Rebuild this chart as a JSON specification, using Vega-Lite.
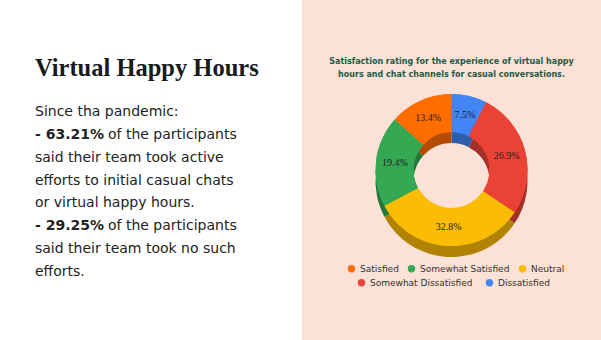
{
  "$schema": "https://vega.github.io/schema/vega-lite/v6.json",
  "padding": 0,
  "background": "white",
  "spacing": 232,
  "bounds": "flush",
  "config": {"view": {"stroke": null}},
  "resolve": {"scale": {"color": "independent", "fill": "independent"}, "legend": {"color": "independent", "fill": "independent"}},
  "hconcat": [
    {
      "width": 70,
      "height": 340,
      "data": {"values": [
        {"line": 0, "bold": "", "rest": "Virtual Happy Hours"},
        {"line": 1, "bold": "", "rest": "Since tha pandemic:"},
        {"line": 2, "bold": "- 63.21%", "rest": "of the participants"},
        {"line": 3, "bold": "", "rest": "said their team took active"},
        {"line": 4, "bold": "", "rest": "efforts to initial casual chats"},
        {"line": 5, "bold": "", "rest": "or virtual happy hours."},
        {"line": 6, "bold": "- 29.25%", "rest": "of the participants"},
        {"line": 7, "bold": "", "rest": "said their team took no such"},
        {"line": 8, "bold": "", "rest": "efforts."}
      ]},
      "encoding": {
        "y": {"field": "line", "type": "quantitative", "scale": {"domain": [1, 8], "range": [112, 272], "zero": false, "nice": false}, "axis": null}
      },
      "layer": [
        {
          "transform": [{"filter": "datum.line == 0"}],
          "mark": {"type": "text", "align": "left", "baseline": "middle", "dy": -20, "font": "Liberation Serif", "fontWeight": "bold", "fontSize": 24.5, "color": "#1a1a1a"},
          "encoding": {"text": {"field": "rest"}}
        },
        {
          "transform": [{"filter": "datum.line > 0 && datum.bold != ''"}],
          "mark": {"type": "text", "align": "left", "baseline": "middle", "font": "DejaVu Sans", "fontWeight": "bold", "fontSize": 14, "color": "#222222"},
          "encoding": {"text": {"field": "bold"}}
        },
        {
          "transform": [{"filter": "datum.line > 0 && datum.bold != ''"}],
          "mark": {"type": "text", "align": "left", "baseline": "middle", "dx": 73, "font": "DejaVu Sans", "fontSize": 14, "color": "#222222"},
          "encoding": {"text": {"field": "rest"}}
        },
        {
          "transform": [{"filter": "datum.line > 0 && datum.bold == ''"}],
          "mark": {"type": "text", "align": "left", "baseline": "middle", "font": "DejaVu Sans", "fontSize": 14, "color": "#222222"},
          "encoding": {"text": {"field": "rest"}}
        }
      ]
    },
    {
      "width": 299,
      "height": 340,
      "view": {"fill": "#fbe1d6", "stroke": null},
      "title": {
        "text": ["Satisfaction rating for the experience of virtual happy", "hours and chat channels for casual conversations."],
        "frame": "group", "anchor": "middle", "offset": -79,
        "font": "DejaVu Sans", "fontWeight": "bold", "fontSize": 8, "lineHeight": 12.7, "color": "#1f5a44"
      },
      "data": {"values": [
        {"cat": "Dissatisfied", "pct": 7.5, "label": "7.5%", "order": 1},
        {"cat": "Somewhat Dissatisfied", "pct": 26.9, "label": "26.9%", "order": 2},
        {"cat": "Neutral", "pct": 32.8, "label": "32.8%", "order": 3},
        {"cat": "Somewhat Satisfied", "pct": 19.4, "label": "19.4%", "order": 4},
        {"cat": "Satisfied", "pct": 13.4, "label": "13.4%", "order": 5}
      ]},
      "encoding": {
        "theta": {"field": "pct", "type": "quantitative", "stack": true},
        "order": {"field": "order", "type": "quantitative"}
      },
      "layer": [
        {
          "mark": {"type": "arc", "outerRadius": 76, "innerRadius": 38, "yOffset": 11},
          "encoding": {
            "color": {"field": "cat", "type": "nominal",
              "scale": {"domain": ["Satisfied", "Somewhat Satisfied", "Neutral", "Somewhat Dissatisfied", "Dissatisfied"],
                        "range": ["#b34c01", "#247538", "#b08303", "#a4302a", "#2e5dab"]},
              "legend": null}
          }
        },
        {
          "mark": {"type": "arc", "outerRadius": 76, "innerRadius": 38},
          "encoding": {
            "fill": {"field": "cat", "type": "nominal",
              "scale": {"domain": ["Satisfied", "Somewhat Satisfied", "Neutral", "Somewhat Dissatisfied", "Dissatisfied"],
                        "range": ["#ff6d01", "#34a853", "#fbbc04", "#ea4335", "#4285f4"]},
              "legend": {"orient": "none", "legendX": 55, "legendY": 278, "direction": "horizontal", "title": null,
                         "values": ["Somewhat Dissatisfied", "Dissatisfied"],
                         "symbolType": "circle", "symbolSize": 55, "symbolStrokeWidth": 0, "labelFont": "DejaVu Sans", "labelFontSize": 9, "labelColor": "#333333",
                         "columnPadding": 12, "labelOffset": 4}}
          }
        },
        {
          "mark": {"type": "arc", "outerRadius": 76, "innerRadius": 38},
          "encoding": {
            "color": {"field": "cat", "type": "nominal",
              "scale": {"domain": ["Satisfied", "Somewhat Satisfied", "Neutral", "Somewhat Dissatisfied", "Dissatisfied"],
                        "range": ["#ff6d01", "#34a853", "#fbbc04", "#ea4335", "#4285f4"]},
              "legend": {"orient": "none", "legendX": 45, "legendY": 264, "direction": "horizontal", "title": null,
                         "values": ["Satisfied", "Somewhat Satisfied", "Neutral"],
                         "symbolType": "circle", "symbolSize": 55, "symbolStrokeWidth": 0, "labelFont": "DejaVu Sans", "labelFontSize": 9, "labelColor": "#333333",
                         "columnPadding": 8, "labelOffset": 4}}
          }
        },
        {
          "mark": {"type": "text", "radius": 57, "font": "Liberation Serif", "fontSize": 10, "color": "#222222"},
          "encoding": {"text": {"field": "label"}}
        }
      ],
      "resolve": {"scale": {"color": "independent", "fill": "independent"}, "legend": {"color": "independent", "fill": "independent"}}
    }
  ]
}
